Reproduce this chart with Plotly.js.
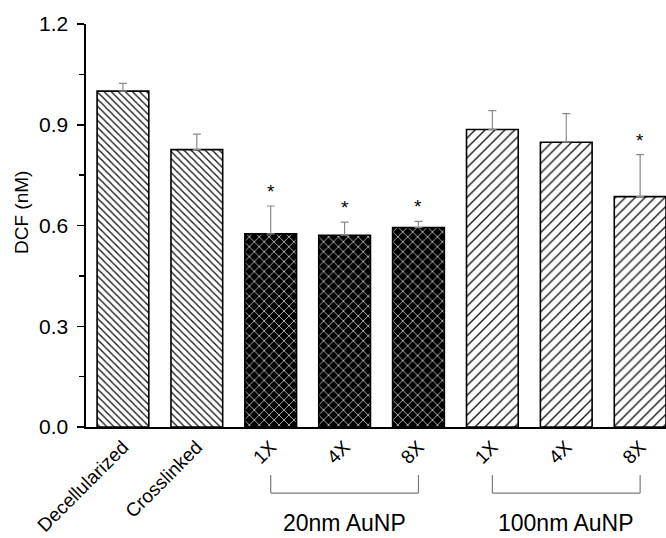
<!DOCTYPE html>
<html>
<head>
<meta charset="utf-8">
<script src="https://cdn.plot.ly/plotly-3.0.1.min.js"></script>
<style>html,body{margin:0;padding:0;background:#fff;}#chart{width:666px;height:538px;}</style>
</head>
<body>
<div id="chart"></div>
<script>
// ---- data ----
var tickLabels = ["Decellularized", "Crosslinked", "1X", "4X", "8X", "1X", "4X", "8X"];
var dcfValues = [1.000, 0.826, 0.575, 0.571, 0.594, 0.886, 0.848, 0.686];
var dcfErrors = [0.023, 0.046, 0.083, 0.039, 0.018, 0.056, 0.085, 0.125];
var significant = [false, false, true, true, true, false, false, true];
var groupNames = ["20nm AuNP", "100nm AuNP"];
var groupMembers = [[2, 4], [5, 7]];
var yTickVals = [0.0, 0.3, 0.6, 0.9, 1.2];

// ---- styles ----
var FONT = "Arial, Liberation Sans, sans-serif";
var xIdx = tickLabels.map(function (_, i) { return i; });
var seriesDefs = [
  { idx: [0, 1], shape: "\\", bg: "#ffffff", fg: "#1a1a1a", size: 5, sol: 0.28 },
  { idx: [2, 3, 4], shape: "x", bg: "#000000", fg: "#cfcfcf", size: 7, sol: 0.22 },
  { idx: [5, 6, 7], shape: "/", bg: "#ffffff", fg: "#1a1a1a", size: 7, sol: 0.2 }
];

var traces = seriesDefs.map(function (s) {
  return {
    type: "bar",
    x: s.idx.map(function (i) { return xIdx[i]; }),
    y: s.idx.map(function (i) { return dcfValues[i]; }),
    width: 0.7,
    marker: {
      color: s.bg,
      line: { color: "#000000", width: 1.6 },
      pattern: { shape: s.shape, bgcolor: s.bg, fgcolor: s.fg, size: s.size, solidity: s.sol, fillmode: "replace" }
    },
    error_y: {
      type: "data",
      symmetric: false,
      array: s.idx.map(function (i) { return dcfErrors[i]; }),
      arrayminus: s.idx.map(function () { return 0; }),
      color: "#8a8a8a",
      thickness: 1.2,
      width: 4
    },
    hoverinfo: "none",
    showlegend: false
  };
});

var annotations = [];
dcfValues.forEach(function (v, i) {
  if (significant[i]) {
    annotations.push({
      x: i, y: v + dcfErrors[i], xref: "x", yref: "y",
      text: "*", showarrow: false, yanchor: "bottom",
      font: { family: FONT, size: 19, color: "#000" },
      yshift: 2
    });
  }
});
var shapes = [];
groupMembers.forEach(function (g, k) {
  var lineStyle = { color: "#7a7a7a", width: 1.2 };
  shapes.push({ type: "line", xref: "x", yref: "paper", x0: g[0], x1: g[0], y0: -0.119, y1: -0.164, line: lineStyle });
  shapes.push({ type: "line", xref: "x", yref: "paper", x0: g[1], x1: g[1], y0: -0.119, y1: -0.164, line: lineStyle });
  shapes.push({ type: "line", xref: "x", yref: "paper", x0: g[0], x1: g[1], y0: -0.164, y1: -0.164, line: lineStyle });
  annotations.push({
    x: (g[0] + g[1]) / 2, y: -0.238, xref: "x", yref: "paper",
    text: groupNames[k], showarrow: false, xanchor: "center", yanchor: "middle",
    font: { family: FONT, size: 23, color: "#000" }
  });
});
annotations.push({
  x: 0, y: 0.531, xref: "paper", yref: "paper", xshift: -65,
  text: "DCF (nM)", textangle: -90, showarrow: false,
  xanchor: "center", yanchor: "middle",
  font: { family: FONT, size: 19, color: "#000" }
});

var layout = {
  width: 666, height: 538,
  margin: { l: 86, r: 0, t: 24, b: 111 },
  paper_bgcolor: "#ffffff",
  plot_bgcolor: "#ffffff",
  font: { family: FONT, color: "#000" },
  barmode: "overlay",
  xaxis: {
    range: [-0.5, 7.35],
    tickvals: xIdx,
    ticktext: tickLabels,
    tickangle: -45,
    ticks: "",
    showline: true, linecolor: "#000", linewidth: 1.6,
    showgrid: false, zeroline: false,
    tickfont: { size: 19, color: "#000" }
  },
  yaxis: {
    range: [0, 1.2],
    tickvals: yTickVals,
    ticktext: yTickVals.map(function (v) { return v.toFixed(1); }),
    ticks: "outside", ticklen: 7, tickwidth: 1.5, tickcolor: "#000",
    minor: { ticks: "outside", ticklen: 5, tickwidth: 1.5, tickcolor: "#000", dtick: 0.15, tick0: 0, showgrid: false },
    showline: true, linecolor: "#000", linewidth: 1.6,
    showgrid: false, zeroline: false,
    ticklabelstandoff: 5,
    tickfont: { size: 21, color: "#000" }
  },
  shapes: shapes,
  annotations: annotations
};

Plotly.newPlot("chart", traces, layout, { displayModeBar: false, staticPlot: true });
</script>
</body>
</html>
